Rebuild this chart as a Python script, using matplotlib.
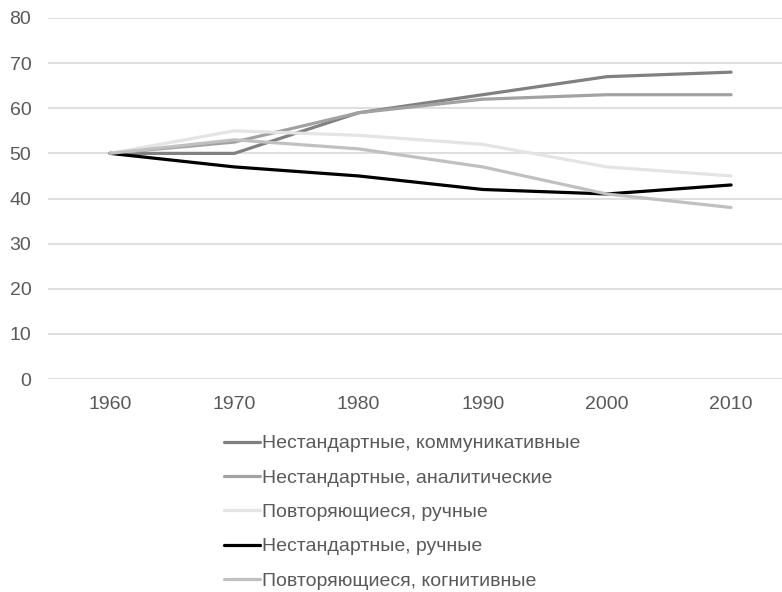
import matplotlib.pyplot as plt

plt.rcParams['font.family'] = ['Liberation Sans', 'DejaVu Sans']

# decades on the x axis
years = ['1960', '1970', '1980', '1990', '2000', '2010']

# task index per job category
communicative = [50, 50, 59, 63, 67, 68]
analytic = [50, 52.5, 59, 62, 63, 63]
routine_manual = [50, 55, 54, 52, 47, 45]
nonroutine_manual = [50, 47, 45, 42, 41, 43]
routine_cognitive = [50, 53, 51, 47, 41, 38]

labels = ['Нестандартные, коммуникативные',
          'Нестандартные, аналитические',
          'Повторяющиеся, ручные',
          'Нестандартные, ручные',
          'Повторяющиеся, когнитивные']
series = [communicative, analytic, routine_manual, nonroutine_manual, routine_cognitive]
colors = ['#808080', '#a2a2a2', '#e4e4e4', '#000000', '#c0c0c0']

fig = plt.figure(figsize=(7.82, 5.92), dpi=100)
ax = fig.add_axes([48 / 782, 213 / 592, 734 / 782, 361 / 592])

x = range(len(years))
for vals, lab, col in zip(series, labels, colors):
    ax.plot(x, vals, color=col, lw=2.3, label=lab, solid_capstyle='round')

ax.set_xlim(-0.5, 5.41)
ax.set_ylim(0, 80)
ax.set_yticks(range(0, 81, 10))
ax.set_xticks(list(x))
ax.set_xticklabels(years)
ax.grid(axis='y', color='#d9d9d9', lw=1.2)
ax.set_axisbelow(True)
for s in ax.spines.values():
    s.set_visible(False)
ax.tick_params(length=0, labelsize=14, labelcolor='#595959')
ax.tick_params(axis='y', pad=12)
ax.tick_params(axis='x', pad=12)

leg = fig.legend(loc='upper left', bbox_to_anchor=(214 / 782, 1 - 425 / 592),
                 frameon=False, fontsize=14, handlelength=1.85, handletextpad=0.1,
                 labelspacing=0.86, borderpad=0)
for t in leg.get_texts():
    t.set_color('#595959')

fig.savefig('out.png', dpi=100)
